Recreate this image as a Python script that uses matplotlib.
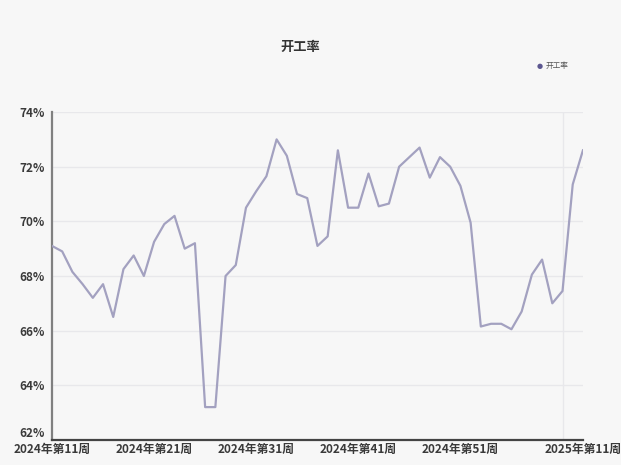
import matplotlib
matplotlib.use("Agg")
import matplotlib.pyplot as plt
from matplotlib.ticker import FixedLocator, FuncFormatter

plt.rcParams['font.family'] = ['Noto Sans CJK SC', 'DejaVu Sans']

# Weekly labels: 2024 week 11 .. 2024 week 52, then 2025 week 1 .. 11
weeks = [f"2024年第{w}周" for w in range(11, 53)] + [f"2025年第{w}周" for w in range(1, 12)]

# Operating rate (%)
rate = [
    69.1, 68.9, 68.15, 67.7, 67.2, 67.7, 66.5, 68.25, 68.75, 68.0,
    69.25, 69.9, 70.2, 69.0, 69.2, 63.2, 63.2, 68.0, 68.4, 70.5,
    71.1, 71.65, 73.0, 72.4, 71.0, 70.85, 69.1, 69.45, 72.6, 70.5,
    70.5, 71.75, 70.55, 70.65, 72.0, 72.35, 72.7, 71.6, 72.35, 72.0,
    71.3, 69.95, 66.15, 66.25, 66.25, 66.05, 66.7, 68.05, 68.6, 67.0,
    67.45, 71.35, 72.6,
]

series_name = "开工率"
y_ticks = [62, 64, 66, 68, 70, 72, 74]
label_idx = [0, 10, 20, 30, 40, len(weeks) - 1]
grid_idx = [10, 20, 30, 40, 50]

bg = "#f7f7f7"
fig = plt.figure(figsize=(6.21, 4.65), dpi=100, facecolor=bg)
ax = fig.add_axes([0.0837, 0.054, 0.855, 0.705], facecolor=bg)

x = list(range(len(weeks)))
ax.plot(x, rate, color="#a3a1c0", lw=1.6, zorder=3)

ax.set_xlim(0, len(weeks) - 1)
ax.set_ylim(62, 74)

ax.set_yticks(y_ticks)
ax.yaxis.set_major_formatter(FuncFormatter(lambda v, p: f"{v:.0f}%"))
ax.set_xticks(label_idx)
ax.set_xticklabels([weeks[i] for i in label_idx])
ax.xaxis.set_minor_locator(FixedLocator(grid_idx))

ax.grid(axis="y", which="major", color="#e8e8eb", lw=1.0)
ax.grid(axis="x", which="minor", color="#e8e8eb", lw=1.0)
ax.set_axisbelow(True)

ax.tick_params(axis="both", which="both", length=0)
ax.tick_params(axis="y", pad=5)
ax.tick_params(axis="x", pad=2)
for lab in ax.get_yticklabels() + ax.get_xticklabels():
    lab.set_fontsize(8.5)
    lab.set_fontweight("bold")
    lab.set_color("#3a3a3a")
ax.get_yticklabels()[0].set_va("bottom")

for s in ("top", "right"):
    ax.spines[s].set_visible(False)
ax.spines["left"].set_color("#808080")
ax.spines["left"].set_linewidth(1.6)
ax.spines["bottom"].set_color("#444444")
ax.spines["bottom"].set_linewidth(1.6)

fig.text(0.483, 0.899, series_name, ha="center", va="center",
         fontsize=9.5, fontweight="bold", color="#333333")

# Legend: small dot + label
fig.text(0.869, 0.858, "●", ha="center", va="center", fontsize=5, color="#5c5790",
         family=["DejaVu Sans"])
fig.text(0.879, 0.858, series_name, ha="left", va="center", fontsize=5.5, color="#555555")

fig.savefig("out.png", dpi=100, facecolor=bg)
